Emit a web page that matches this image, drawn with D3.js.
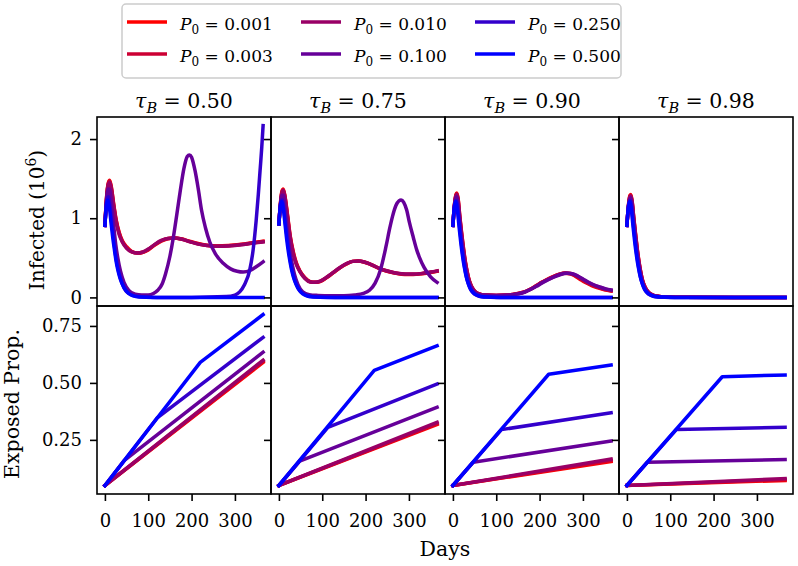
<!DOCTYPE html>
<html>
<head>
<meta charset="utf-8">
<script src="https://cdnjs.cloudflare.com/ajax/libs/d3/7.8.5/d3.min.js"></script>
<style>
body { margin: 0; background: #fff; }
text { font-family: "DejaVu Serif", serif; fill: #000; }
</style>
</head>
<body>
<div id="chart"></div>
<script>
// panel titles (tau_B) and legend labels (P0)
var tauValues = ["0.50", "0.75", "0.90", "0.98"];
var p0Labels = ["0.001", "0.003", "0.010", "0.100", "0.250", "0.500"];
var lineColors = ["#ff0000", "#cc0033", "#990066", "#660099", "#3300cc", "#0000ff"];

var xTicks = [0, 100, 200, 300];
var infectedTicks = [0, 1, 2];
var exposedTicks = [0.25, 0.50, 0.75];

// Infected (10^6) per panel, one [day, value] list per P0
var infected050 = [
    [[0,0.91],[4,1.28],[8,1.45],[11,1.48],[15,1.39],[20,1.19],[26,0.98],[33,0.82],[40,0.72],[50,0.64],[62,0.58],[75,0.56],[88,0.57],[100,0.60],[115,0.66],[130,0.71],[145,0.74],[158,0.75],[175,0.74],[195,0.71],[215,0.68],[235,0.66],[258,0.65],[285,0.655],[315,0.67],[340,0.69],[365,0.71]],
    [[0,0.91],[4,1.27],[8,1.44],[11,1.47],[15,1.38],[20,1.18],[26,0.97],[33,0.81],[40,0.71],[50,0.63],[62,0.575],[75,0.56],[88,0.57],[100,0.605],[115,0.665],[130,0.715],[145,0.745],[159,0.75],[176,0.738],[196,0.705],[216,0.675],[236,0.657],[259,0.648],[285,0.652],[315,0.667],[340,0.687],[365,0.705]],
    [[0,0.91],[4,1.26],[8,1.43],[11,1.45],[15,1.36],[20,1.16],[26,0.95],[33,0.79],[40,0.70],[50,0.62],[62,0.575],[75,0.56],[88,0.575],[100,0.61],[115,0.67],[130,0.72],[145,0.745],[160,0.75],[178,0.735],[198,0.70],[218,0.67],[238,0.655],[260,0.645],[285,0.65],[315,0.665],[340,0.685],[365,0.70]],
    [[0,0.91],[4,1.24],[8,1.37],[11,1.36],[15,1.19],[20,0.92],[25,0.67],[30,0.49],[36,0.33],[44,0.19],[55,0.09],[70,0.04],[85,0.03],[100,0.03],[112,0.05],[122,0.09],[132,0.17],[140,0.30],[150,0.52],[158,0.76],[166,1.05],[174,1.35],[182,1.62],[190,1.78],[195,1.80],[200,1.77],[208,1.60],[216,1.35],[223,1.10],[232,0.88],[242,0.70],[255,0.55],[273,0.43],[290,0.36],[305,0.33],[319,0.32],[335,0.34],[350,0.39],[365,0.45]],
    [[0,0.91],[3,1.15],[6,1.26],[8,1.27],[12,1.14],[16,0.93],[20,0.74],[25,0.52],[30,0.37],[36,0.24],[44,0.12],[55,0.05],[70,0.017],[90,0.004],[120,0],[200,0],[280,0.01],[300,0.03],[311,0.07],[322,0.16],[334,0.34],[342,0.60],[349,0.97],[354,1.30],[358,1.60],[362,1.90],[365,2.17]],
    [[0,0.91],[3,1.13],[5,1.21],[7,1.23],[10,1.15],[14,0.95],[18,0.76],[22,0.60],[26,0.45],[30,0.34],[35,0.24],[40,0.17],[47,0.10],[55,0.05],[65,0.02],[80,0.005],[110,0],[365,0]]
];

var infected075 = [
    [[0,0.93],[4,1.22],[7,1.34],[10,1.37],[14,1.28],[19,1.08],[26,0.78],[33,0.58],[40,0.44],[49,0.33],[60,0.25],[72,0.20],[83,0.19],[95,0.20],[110,0.25],[125,0.31],[140,0.37],[155,0.42],[170,0.455],[182,0.46],[195,0.45],[210,0.42],[230,0.37],[250,0.33],[270,0.305],[290,0.29],[310,0.29],[330,0.30],[350,0.315],[365,0.33]],
    [[0,0.93],[4,1.21],[7,1.33],[10,1.36],[14,1.27],[19,1.07],[26,0.77],[33,0.57],[40,0.43],[49,0.325],[60,0.245],[72,0.198],[83,0.19],[95,0.202],[110,0.252],[125,0.312],[140,0.372],[155,0.422],[170,0.455],[183,0.46],[196,0.448],[211,0.418],[231,0.368],[251,0.33],[271,0.305],[291,0.292],[311,0.292],[331,0.302],[350,0.317],[365,0.332]],
    [[0,0.93],[4,1.20],[7,1.32],[10,1.35],[14,1.26],[19,1.05],[26,0.75],[33,0.55],[40,0.42],[49,0.32],[60,0.24],[72,0.195],[83,0.19],[95,0.205],[110,0.255],[125,0.315],[140,0.375],[155,0.425],[170,0.455],[184,0.46],[198,0.445],[213,0.415],[233,0.365],[253,0.33],[273,0.305],[293,0.295],[313,0.295],[333,0.305],[350,0.32],[365,0.335]],
    [[0,0.93],[4,1.19],[7,1.29],[10,1.29],[14,1.14],[19,0.87],[25,0.60],[30,0.44],[36,0.29],[44,0.16],[55,0.07],[70,0.035],[90,0.025],[120,0.02],[150,0.02],[175,0.03],[195,0.05],[209,0.09],[222,0.18],[235,0.36],[247,0.64],[256,0.88],[262,1.02],[270,1.16],[277,1.22],[282,1.23],[288,1.20],[295,1.10],[301,0.95],[310,0.76],[318,0.60],[324,0.51],[335,0.38],[350,0.26],[365,0.19]],
    [[0,0.93],[3,1.15],[6,1.23],[8,1.23],[12,1.09],[16,0.89],[20,0.71],[25,0.51],[30,0.36],[36,0.23],[44,0.12],[55,0.05],[70,0.018],[90,0.005],[130,0],[365,0]],
    [[0,0.93],[3,1.13],[5,1.20],[7,1.21],[10,1.13],[14,0.93],[18,0.73],[22,0.57],[26,0.44],[30,0.33],[35,0.23],[40,0.16],[47,0.09],[55,0.045],[65,0.018],[80,0.005],[110,0],[365,0]]
];

var infected090 = [
    [[0,0.91],[4,1.20],[7,1.30],[9,1.32],[12,1.25],[16,1.02],[20,0.82],[24,0.64],[28,0.48],[32,0.35],[36,0.25],[42,0.15],[50,0.08],[60,0.045],[75,0.03],[100,0.025],[125,0.03],[150,0.05],[165,0.07],[177,0.10],[190,0.14],[205,0.19],[215,0.22],[230,0.26],[245,0.29],[258,0.305],[270,0.30],[283,0.265],[296,0.22],[307,0.185],[320,0.15],[335,0.12],[350,0.095],[365,0.08]],
    [[0,0.91],[4,1.19],[7,1.29],[9,1.31],[12,1.24],[16,1.01],[20,0.81],[24,0.63],[28,0.47],[32,0.345],[36,0.245],[42,0.148],[50,0.08],[60,0.045],[75,0.03],[100,0.025],[125,0.03],[150,0.05],[165,0.07],[177,0.10],[190,0.14],[205,0.19],[215,0.22],[230,0.26],[245,0.292],[259,0.307],[271,0.302],[284,0.27],[297,0.225],[308,0.19],[321,0.155],[336,0.125],[350,0.1],[365,0.085]],
    [[0,0.91],[4,1.18],[7,1.28],[9,1.30],[12,1.22],[16,0.99],[20,0.79],[24,0.61],[28,0.46],[32,0.34],[36,0.24],[42,0.145],[50,0.08],[60,0.045],[75,0.03],[100,0.025],[125,0.03],[150,0.048],[165,0.068],[178,0.10],[191,0.14],[206,0.19],[217,0.22],[232,0.26],[247,0.293],[261,0.308],[273,0.303],[286,0.272],[299,0.23],[310,0.195],[323,0.16],[338,0.13],[352,0.105],[365,0.09]],
    [[0,0.91],[4,1.17],[7,1.26],[9,1.27],[12,1.18],[16,0.95],[20,0.74],[24,0.56],[28,0.41],[32,0.29],[36,0.20],[42,0.12],[50,0.065],[60,0.037],[75,0.027],[100,0.024],[125,0.028],[150,0.045],[165,0.065],[179,0.10],[193,0.14],[208,0.19],[219,0.22],[234,0.26],[249,0.29],[263,0.305],[275,0.30],[288,0.27],[301,0.23],[312,0.195],[325,0.16],[340,0.13],[353,0.108],[365,0.095]],
    [[0,0.91],[3,1.13],[6,1.22],[8,1.22],[12,1.08],[16,0.86],[20,0.66],[24,0.49],[28,0.35],[32,0.24],[36,0.17],[42,0.09],[50,0.04],[60,0.015],[75,0.005],[100,0],[365,0]],
    [[0,0.91],[3,1.12],[5,1.19],[7,1.21],[10,1.12],[14,0.90],[18,0.70],[22,0.53],[26,0.39],[30,0.28],[35,0.18],[40,0.11],[47,0.06],[55,0.03],[65,0.012],[80,0.004],[110,0],[365,0]]
];

var infected098 = [
    [[0,0.91],[4,1.19],[7,1.29],[9,1.30],[12,1.22],[16,1.00],[20,0.80],[24,0.61],[28,0.45],[32,0.32],[36,0.22],[42,0.13],[50,0.065],[60,0.03],[75,0.012],[95,0.004],[130,0.001],[365,0]],
    [[0,0.91],[4,1.18],[7,1.28],[9,1.29],[12,1.21],[16,0.99],[20,0.79],[24,0.60],[28,0.44],[32,0.315],[36,0.215],[42,0.127],[50,0.063],[60,0.03],[75,0.012],[95,0.004],[130,0.001],[365,0]],
    [[0,0.91],[4,1.17],[7,1.27],[9,1.28],[12,1.20],[16,0.98],[20,0.78],[24,0.59],[28,0.435],[32,0.31],[36,0.21],[42,0.125],[50,0.062],[60,0.03],[75,0.012],[95,0.004],[130,0.001],[365,0]],
    [[0,0.91],[4,1.16],[7,1.25],[9,1.26],[12,1.17],[16,0.94],[20,0.73],[24,0.55],[28,0.40],[32,0.28],[36,0.19],[42,0.11],[50,0.055],[60,0.025],[75,0.01],[95,0.004],[130,0.001],[365,0]],
    [[0,0.91],[3,1.13],[6,1.22],[8,1.22],[12,1.08],[16,0.86],[20,0.66],[24,0.49],[28,0.35],[32,0.24],[36,0.17],[42,0.09],[50,0.04],[60,0.015],[75,0.005],[100,0],[365,0]],
    [[0,0.91],[3,1.12],[5,1.19],[7,1.21],[10,1.12],[14,0.90],[18,0.70],[22,0.53],[26,0.39],[30,0.28],[35,0.18],[40,0.11],[47,0.06],[55,0.03],[65,0.012],[80,0.004],[110,0],[365,0]]
];

// Exposed proportion per panel
var exposed050 = [
    [[0,0.05],[365,0.59]],
    [[0,0.05],[365,0.595]],
    [[0,0.05],[365,0.60]],
    [[0,0.05],[45,0.16],[365,0.635]],
    [[0,0.05],[120,0.345],[365,0.70]],
    [[0,0.05],[220,0.59],[365,0.80]]
];
var exposed075 = [
    [[0,0.05],[365,0.318]],
    [[0,0.05],[365,0.322]],
    [[0,0.05],[365,0.327]],
    [[0,0.05],[48,0.157],[365,0.393]],
    [[0,0.05],[113,0.305],[365,0.495]],
    [[0,0.05],[220,0.555],[365,0.663]]
];
var exposed090 = [
    [[0,0.05],[365,0.155]],
    [[0,0.05],[365,0.16]],
    [[0,0.05],[365,0.166]],
    [[0,0.05],[47,0.152],[365,0.245]],
    [[0,0.05],[112,0.295],[365,0.369]],
    [[0,0.05],[221,0.538],[365,0.579]]
];
var exposed098 = [
    [[0,0.05],[365,0.072]],
    [[0,0.05],[365,0.076]],
    [[0,0.05],[365,0.080]],
    [[0,0.05],[47,0.152],[365,0.164]],
    [[0,0.05],[114,0.295],[365,0.305]],
    [[0,0.05],[220,0.527],[365,0.535]]
];

var infectedData = [infected050, infected075, infected090, infected098];
var exposedData = [exposed050, exposed075, exposed090, exposed098];

var width = 798, height = 566;
var left = 97, panelW = 174;
var topRowY = 117, rowSplit = 306, bottomRowY = 494;

var svg = d3.select("#chart").append("svg")
    .attr("width", width)
    .attr("height", height);

//matplotlib style 5% padding around the data range
function padded(ext) {
    var m = (ext[1] - ext[0]) * 0.05;
    return [ext[0] - m, ext[1] + m];
}
function allPoints(sets) {
    return sets.flat(2);
}

var xScale = d3.scaleLinear()
    .domain(padded([0, 365]))
    .range([0, panelW]);

var yInfected = d3.scaleLinear()
    .domain(padded(d3.extent(allPoints(infectedData), function(d) { return d[1]; })))
    .range([rowSplit - topRowY, 0]);

var yExposed = d3.scaleLinear()
    .domain(padded(d3.extent(allPoints(exposedData), function(d) { return d[1]; })))
    .range([bottomRowY - rowSplit, 0]);

function drawPanel(g, series, yScale, curve) {
    var line = d3.line()
        .x(function(d) { return xScale(d[0]); })
        .y(function(d) { return yScale(d[1]); })
        .curve(curve);

    g.selectAll(".series")
        .data(series)
        .enter().append("path")
        .attr("d", line)
        .attr("fill", "none")
        .attr("stroke", function(d, i) { return lineColors[i]; })
        .attr("stroke-width", 3.5)
        .attr("stroke-linejoin", "round")
        .attr("stroke-linecap", "square");
}

function styleAxis(a) {
    a.select(".domain").remove();
    a.selectAll(".tick line").attr("stroke", "#000").attr("stroke-width", 1.6);
    a.selectAll(".tick text")
        .style("font-family", "DejaVu Serif, serif")
        .style("font-size", "18px")
        .attr("fill", "#000");
}

tauValues.forEach(function(tau, p) {
    var x0 = left + p * panelW;

    // top row: infected
    var gTop = svg.append("g").attr("transform", "translate(" + x0 + "," + topRowY + ")");
    drawPanel(gTop, infectedData[p], yInfected, d3.curveMonotoneX);

    // bottom row: exposed
    var gBot = svg.append("g").attr("transform", "translate(" + x0 + "," + rowSplit + ")");
    drawPanel(gBot, exposedData[p], yExposed, d3.curveLinear);

    [[gTop, rowSplit - topRowY], [gBot, bottomRowY - rowSplit]].forEach(function(b) {
        b[0].append("rect")
            .attr("width", panelW)
            .attr("height", b[1])
            .attr("fill", "none")
            .attr("stroke", "#000")
            .attr("stroke-width", 1.6);
    });

    var axTop = gTop.append("g")
        .call(d3.axisLeft(yInfected).tickValues(infectedTicks).tickSize(7).tickPadding(8)
            .tickFormat(p === 0 ? d3.format("d") : ""));
    styleAxis(axTop);

    var axBot = gBot.append("g")
        .call(d3.axisLeft(yExposed).tickValues(exposedTicks).tickSize(7).tickPadding(8)
            .tickFormat(p === 0 ? d3.format(".2f") : ""));
    styleAxis(axBot);

    var axX = gBot.append("g")
        .attr("transform", "translate(0," + (bottomRowY - rowSplit) + ")")
        .call(d3.axisBottom(xScale).tickValues(xTicks).tickSize(7).tickPadding(13));
    styleAxis(axX);

    // panel title
    var title = svg.append("text")
        .attr("x", x0 + panelW / 2)
        .attr("y", 108)
        .attr("text-anchor", "middle")
        .style("font-size", "20.5px");
    title.append("tspan").style("font-style", "italic").text("\u03c4");
    title.append("tspan").style("font-style", "italic").style("font-size", "14.5px").attr("dy", 4.5).text("B");
    title.append("tspan").attr("dy", -4.5).text(" = " + tau);
});

// axis labels
var yl1 = svg.append("text")
    .attr("transform", "translate(44,220)rotate(-90)")
    .attr("text-anchor", "middle")
    .style("font-size", "20px");
yl1.append("tspan").text("Infected (10");
yl1.append("tspan").style("font-size", "14px").attr("dy", -8).text("6");
yl1.append("tspan").attr("dy", 8).text(")");

svg.append("text")
    .attr("transform", "translate(19,404)rotate(-90)")
    .attr("text-anchor", "middle")
    .style("font-size", "20.5px")
    .text("Exposed Prop.");

svg.append("text")
    .attr("x", left + 2 * panelW)
    .attr("y", 556)
    .attr("text-anchor", "middle")
    .style("font-size", "20.5px")
    .text("Days");

// legend, 3 columns x 2 rows (column-major)
var legend = svg.append("g");
legend.append("rect")
    .attr("x", 122).attr("y", 4)
    .attr("width", 499).attr("height", 74)
    .attr("rx", 4)
    .attr("fill", "#fff")
    .attr("stroke", "#cccccc")
    .attr("stroke-width", 1.5);

p0Labels.forEach(function(lab, i) {
    var col = Math.floor(i / 2), row = i % 2;
    var lx = 127 + col * 174, ly = 22 + row * 32;
    legend.append("line")
        .attr("x1", lx).attr("x2", lx + 40)
        .attr("y1", ly).attr("y2", ly)
        .attr("stroke", lineColors[i])
        .attr("stroke-width", 3.5);
    var t = legend.append("text")
        .attr("x", lx + 53)
        .attr("y", ly + 7.5)
        .style("font-size", "17px");
    t.append("tspan").style("font-style", "italic").text("P");
    t.append("tspan").style("font-size", "12px").attr("dy", 4).text("0");
    t.append("tspan").attr("dy", -4).text(" = " + lab);
});
</script>
</body>
</html>
